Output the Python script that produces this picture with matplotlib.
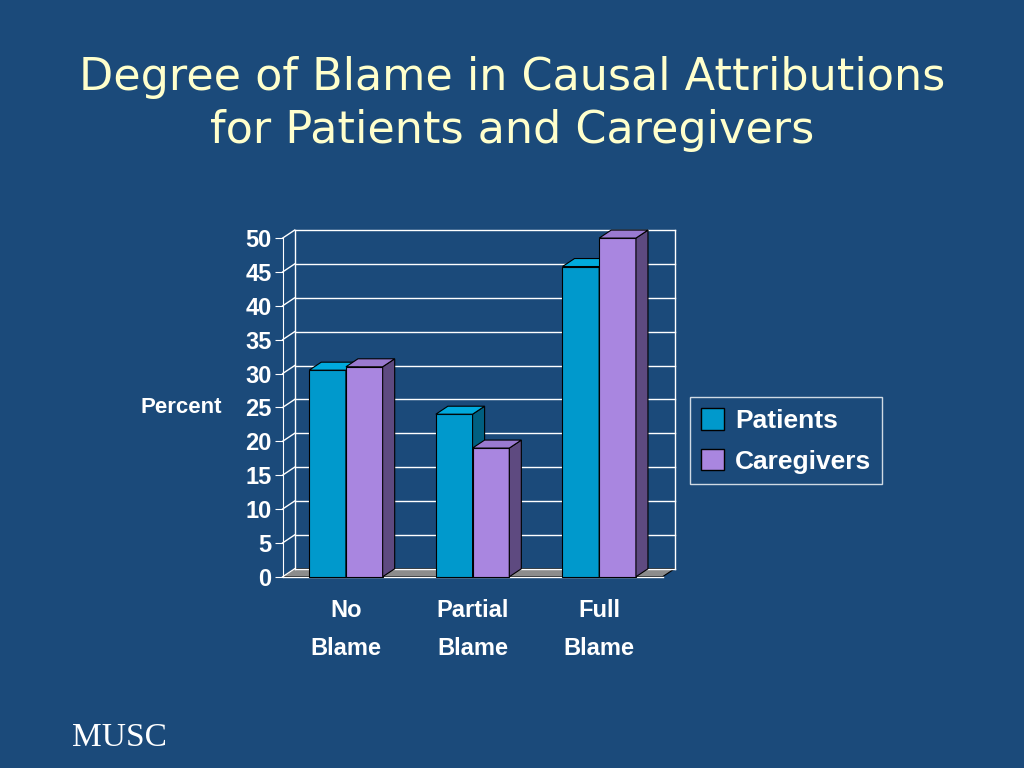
import matplotlib
matplotlib.use("Agg")
import matplotlib.pyplot as plt
from matplotlib.patches import Polygon, Rectangle, Patch

categories = ["No\nBlame", "Partial\nBlame", "Full\nBlame"]
patients = [30.5, 24, 45.8]
caregivers = [31, 19, 50]
yticks = list(range(0, 51, 5))

BG = "#1B4A7A"
FONT = "Liberation Sans"
fig = plt.figure(figsize=(10.24, 7.68), dpi=100, facecolor=BG)
ax = fig.add_axes([0.276, 0.249, 0.371, 0.441])
ax.set_facecolor("none")
ax.set_xlim(0, 3)
ax.set_ylim(0, 50)
dx, dy = 0.095, 1.18
w = 0.29

for t in yticks:
    ax.plot([dx, 3 + dx], [t + dy, t + dy], color="white", lw=1, clip_on=False)
    ax.plot([0, dx], [t, t + dy], color="white", lw=1, clip_on=False)
ax.plot([dx, dx], [dy, 50 + dy], color="white", lw=1, clip_on=False)
ax.plot([3 + dx, 3 + dx], [dy, 50 + dy], color="white", lw=1, clip_on=False)
ax.add_patch(Polygon([(0, 0), (3, 0), (3 + dx, dy), (dx, dy)], closed=True,
                     facecolor="#8C8C8C", edgecolor="black", lw=0.8, clip_on=False))

def bar3d(x0, h, front, side, top):
    ax.add_patch(Rectangle((x0, 0), w, h, facecolor=front, edgecolor="black", lw=0.8, clip_on=False, zorder=3))
    ax.add_patch(Polygon([(x0 + w, 0), (x0 + w + dx, dy), (x0 + w + dx, h + dy), (x0 + w, h)],
                         facecolor=side, edgecolor="black", lw=0.8, clip_on=False, zorder=3))
    ax.add_patch(Polygon([(x0, h), (x0 + dx, h + dy), (x0 + w + dx, h + dy), (x0 + w, h)],
                         facecolor=top, edgecolor="black", lw=0.8, clip_on=False, zorder=3))

centers = [0.5, 1.5, 2.5]
for c, p, g in zip(centers, patients, caregivers):
    bar3d(c - w, p, "#0099CC", "#005F80", "#00AADD")
    bar3d(c, g, "#A986E0", "#5E4A80", "#9A7AD0")

for s in ["top", "right", "bottom"]:
    ax.spines[s].set_visible(False)
ax.spines["left"].set_color("white")
ax.set_yticks(yticks)
ax.set_yticklabels([str(t) for t in yticks], color="white", fontsize=17,
                   fontweight="bold", family=FONT)
ax.tick_params(axis="y", colors="white", length=6, pad=2)
ax.set_xticks(centers)
ax.set_xticklabels(categories, color="white", fontsize=17, fontweight="bold",
                   family=FONT, linespacing=1.85)
ax.tick_params(axis="x", length=0, pad=16)
ax.plot([0, 3], [0, 0], color="white", lw=1, clip_on=False)
fig.text(0.217, 0.469, "Percent", color="white", fontsize=16, fontweight="bold",
         family=FONT, ha="right", va="center")

leg = fig.legend(handles=[Patch(facecolor="#0099CC", edgecolor="black"),
                          Patch(facecolor="#A986E0", edgecolor="black")],
                 labels=["Patients", "Caregivers"], loc="upper left",
                 bbox_to_anchor=(0.674, 0.483), frameon=True, fancybox=False,
                 prop={"family": FONT, "weight": "bold", "size": 19},
                 handlelength=0.9, handleheight=0.9, handletextpad=0.4, labelspacing=0.6,
                 borderpad=0.4, borderaxespad=0)
leg.get_frame().set_facecolor("none")
leg.get_frame().set_edgecolor("white")
for t in leg.get_texts():
    t.set_color("white")

fig.text(0.5, 0.865, "Degree of Blame in Causal Attributions\nfor Patients and Caregivers",
         color="#FFFFCC", fontsize=32, ha="center", va="center", linespacing=1.3,
         family="DejaVu Sans")
fig.text(0.07, 0.02, "MUSC", color="white", fontsize=24, family="Liberation Serif", va="bottom")

fig.savefig("out.png", dpi=100, facecolor=BG)
